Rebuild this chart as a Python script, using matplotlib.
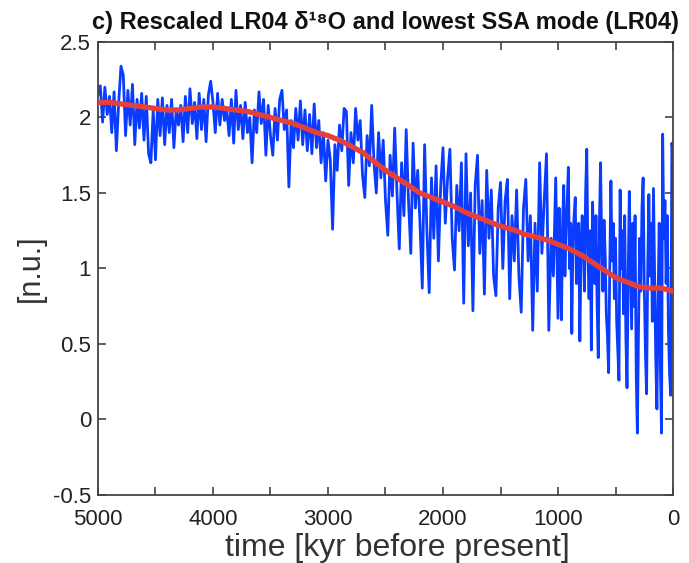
import numpy as np
import matplotlib.pyplot as plt

plt.rcParams['font.family'] = ['Liberation Sans', 'DejaVu Sans']

# ==================
# Data
# ==================

# Rescaled LR04 stack, 20 kyr spacing from 5000 to 1020 kyr
t_old = np.arange(5000, 1000, -20)
lr04_old = [
    # 5000 - 4820
    2.15, 2.21, 1.97, 2.20, 2.02, 2.14, 1.90, 2.17, 1.78, 2.10,
    # 4800 - 4620
    2.34, 2.28, 1.88, 2.18, 1.95, 2.22, 1.82, 2.12, 1.93, 2.16,
    # 4600 - 4420
    1.85, 2.14, 1.76, 1.70, 2.05, 1.72, 2.12, 1.88, 2.13, 1.82,
    # 4400 - 4220
    2.08, 1.90, 2.12, 1.80, 2.05, 1.95, 2.08, 1.84, 2.14, 1.90,
    # 4200 - 4020
    2.19, 1.96, 2.10, 1.86, 2.16, 1.92, 2.12, 1.84, 2.15, 2.24,
    # 4000 - 3820
    2.10, 1.90, 2.16, 1.95, 2.12, 1.98, 2.05, 1.88, 2.12, 1.83,
    # 3800 - 3620
    2.18, 1.92, 2.08, 1.86, 2.10, 1.90, 2.00, 1.70, 2.05, 1.90,
    # 3600 - 3420
    2.17, 1.96, 2.12, 1.75, 2.08, 1.88, 1.75, 2.06, 1.85, 2.12,
    # 3400 - 3220
    2.18, 1.92, 2.05, 1.54, 1.98, 1.80, 2.06, 1.85, 2.11, 1.82,
    # 3200 - 3020
    2.05, 1.78, 2.02, 1.76, 2.09, 1.80, 1.98, 1.70, 1.90, 1.58,
    # 3000 - 2820
    1.85, 1.72, 1.26, 1.82, 1.65, 1.95, 1.78, 2.06, 2.04, 1.55,
    # 2800 - 2620
    1.90, 1.70, 2.06, 1.85, 1.98, 1.62, 1.47, 1.88, 1.68, 2.08,
    # 2600 - 2420
    1.70, 1.50, 1.90, 1.60, 1.85, 1.45, 1.22, 1.75, 1.48, 1.93,
    # 2400 - 2220
    1.50, 1.13, 1.70, 1.35, 1.92, 1.45, 1.10, 1.83, 1.40, 1.65,
    # 2200 - 2020
    1.30, 0.87, 1.82, 1.25, 0.84, 1.60, 1.20, 1.68, 1.05, 1.55,
    # 2000 - 1820
    1.80, 1.30, 1.60, 1.79, 1.20, 0.99, 1.55, 1.25, 1.70, 0.77,
    # 1800 - 1620
    1.76, 1.15, 1.50, 0.72, 1.55, 1.75, 1.10, 1.45, 0.83, 1.65,
    # 1600 - 1420
    1.20, 1.52, 0.95, 0.82, 1.40, 1.57, 1.00, 1.45, 1.59, 0.80,
    # 1400 - 1220
    1.35, 1.05, 1.52, 0.95, 0.71, 1.40, 1.59, 1.05, 1.35, 0.59,
    # 1200 - 1020
    1.30, 0.85, 1.70, 1.10, 1.45, 1.76, 0.59, 1.20, 0.95, 1.60,
]

# 10 kyr spacing from 1000 to 0 kyr
t_young = np.arange(1000, -1, -10)
lr04_young = [
    0.67, 1.40, 1.10, 0.66, 1.30, 1.55, 0.95, 1.25, 1.45, 1.67,
    1.00, 1.30, 0.57, 1.20, 1.35, 1.47, 0.90, 1.15, 1.30, 0.52,
    1.10, 1.35, 1.20, 0.85, 1.50, 1.79, 1.10, 0.80, 1.25, 0.46,
    1.44, 1.20, 0.90, 1.35, 0.75, 0.41, 1.30, 1.70, 1.15, 0.85,
    1.32, 1.10, 0.70, 0.55, 0.31, 1.00, 1.58, 1.05, 1.30, 0.80,
    1.20, 0.65, 0.45, 0.26, 1.52, 1.00, 1.25, 0.70, 1.35, 0.55,
    0.21, 0.95, 1.51, 1.05, 0.60, 1.30, 0.75, 1.35, 0.30, -0.09,
    0.60, 1.20, 0.85, 1.40, 1.60, 0.90, 0.45, 0.17, 1.00, 1.49,
    0.95, 1.30, 0.65, 1.53, 0.95, 0.40, 0.07, 0.80, 1.30, 0.35,
    -0.09, 1.89, 1.20, 1.45, 0.90, 1.35, 0.60, 0.30, 0.16, 1.83,
    1.78,
]

# lowest SSA mode, 100 kyr spacing
t_ssa = np.arange(5000, -1, -100)
ssa_mode = [2.10, 2.10, 2.09, 2.08, 2.07, 2.06, 2.05, 2.05, 2.06, 2.07,
            2.07, 2.06, 2.05, 2.04, 2.02, 2.00, 1.98, 1.96, 1.93, 1.90,
            1.88, 1.85, 1.81, 1.77, 1.71, 1.65, 1.60, 1.55, 1.50, 1.47,
            1.44, 1.41, 1.37, 1.34, 1.31, 1.28, 1.26, 1.23, 1.21, 1.19,
            1.16, 1.13, 1.09, 1.04, 0.99, 0.94, 0.91, 0.88, 0.87, 0.87,
            0.85]

t_lr04 = np.concatenate([t_old, t_young])
lr04 = np.array(lr04_old + lr04_young)

xticks = [5000, 4000, 3000, 2000, 1000, 0]
yticks = [-0.5, 0, 0.5, 1, 1.5, 2, 2.5]
yticklabels = ['-0.5', '0', '0.5', '1', '1.5', '2', '2.5']

# ==================
# Plot
# ==================

fig = plt.figure(figsize=(6.89, 5.63), dpi=100)
ax = fig.add_axes([0.1422, 0.1208, 0.8346, 0.8046])

ax.plot(t_lr04, lr04, color='#0A3CFF', linewidth=2.0, zorder=2)
ax.plot(t_ssa, ssa_mode, color='#E5403A', linewidth=3.8, zorder=3)

ax.set_xlim(5000, 0)
ax.set_ylim(-0.5, 2.5)

ax.set_xticks(xticks)
ax.set_xticks(np.arange(5000, -1, -500), minor=True)
ax.set_yticks(yticks)
ax.set_yticklabels(yticklabels)

ax.tick_params(which='both', direction='in', top=True, right=True,
               length=6, width=1.1, colors='#333333')
ax.tick_params(axis='x', labelsize=16, labelcolor='#222222', pad=10)
ax.tick_params(axis='y', labelsize=16, labelcolor='#222222', pad=5)
for sp in ax.spines.values():
    sp.set_linewidth(1.3)
    sp.set_color('#444444')

ax.set_xlabel('time [kyr before present]', fontsize=23, color='#333333')
ax.xaxis.set_label_coords(0.52, -0.085)
ax.set_ylabel('[n.u.]', fontsize=22, color='#333333', labelpad=5)
ax.set_title('c) Rescaled LR04 δ¹⁸O and lowest SSA mode (LR04)',
             fontsize=17, fontweight='bold', color='#111111', pad=9)

fig.savefig('out.png', dpi=100)
